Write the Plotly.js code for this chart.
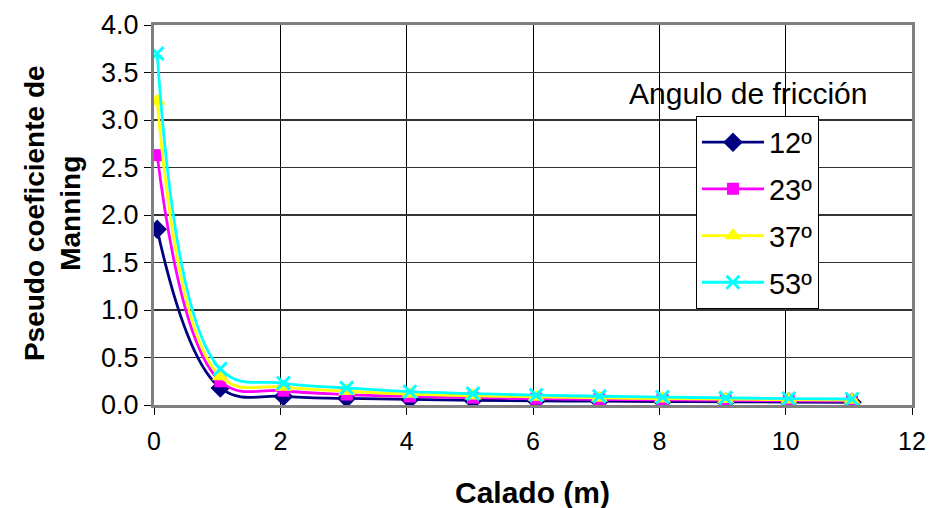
<!DOCTYPE html>
<html>
<head>
<meta charset="utf-8">
<script src="https://cdn.plot.ly/plotly-3.0.1.min.js"></script>
<style>
html,body{margin:0;padding:0;background:#fff;}
#chart{width:930px;height:508px;}
</style>
</head>
<body>
<div id="chart"></div>
<script>
const calado = [0.05, 1.05, 2.05, 3.05, 4.05, 5.05, 6.05, 7.05, 8.05, 9.05, 10.05, 11.05];
const seriesNames = ["12º", "23º", "37º", "53º"];
const n12 = [1.85, 0.18, 0.09, 0.07, 0.06, 0.05, 0.045, 0.04, 0.037, 0.034, 0.031, 0.029];
const n23 = [2.63, 0.25, 0.15, 0.11, 0.09, 0.077, 0.067, 0.06, 0.054, 0.049, 0.045, 0.042];
const n37 = [3.20, 0.30, 0.19, 0.145, 0.115, 0.097, 0.085, 0.075, 0.067, 0.061, 0.056, 0.052];
const n53 = [3.70, 0.38, 0.23, 0.18, 0.14, 0.12, 0.104, 0.092, 0.083, 0.075, 0.068, 0.063];
const xTickVals = [0, 2, 4, 6, 8, 10, 12];
const legendTitle = "Angulo de fricción";
const xTitle = "Calado (m)";
const yTitle = "Pseudo coeficiente de<br>Manning";

const FONT = "Liberation Sans, Arial, sans-serif";
const styles = [
  {color: "#000080", symbol: "diamond", size: 15},
  {color: "#FF00FF", symbol: "square", size: 12},
  {color: "#FFFF00", symbol: "triangle-up", size: 15},
  {color: "#00FFFF", symbol: "x-thin", size: 13}
];
const values = [n12, n23, n37, n53];
const traces = values.map((v, i) => ({
  x: calado, y: v, name: seriesNames[i], type: "scatter", mode: "lines+markers",
  legendgroup: "g" + i,
  line: {color: styles[i].color, width: 2.8, shape: "spline", smoothing: 1.15},
  marker: {color: styles[i].color, symbol: styles[i].symbol, size: styles[i].size,
           line: {color: styles[i].color, width: styles[i].symbol === "x-thin" ? 3 : 0}}
}));

const layout = {
  width: 930, height: 508,
  margin: {l: 154, r: 18, t: 25, b: 103},
  paper_bgcolor: "#fff", plot_bgcolor: "#fff",
  font: {family: FONT, color: "#000", size: 26},
  showlegend: true,
  legend: {x: 0.715, y: 0.761, xanchor: "left", yanchor: "top",
           bgcolor: "#fff", bordercolor: "#000", borderwidth: 1,
           font: {family: FONT, size: 29, color: "#000"}, itemwidth: 62,
           traceorder: "grouped", tracegroupgap: 6},
  xaxis: {range: [0, 12], tickvals: xTickVals, showgrid: true, gridcolor: "#000", gridwidth: 1,
          zeroline: false, ticks: "outside", ticklen: 7, tickcolor: "#000",
          showline: true, linecolor: "#808080", linewidth: 3, mirror: true,
          ticklabeloverflow: "allow", ticklabelstandoff: 5,
          tickfont: {family: FONT, size: 25, color: "#000"}},
  yaxis: {range: [0, 4], dtick: 0.5, tick0: 0, tickformat: ".1f", showgrid: true, gridcolor: "#333", gridwidth: 1.5,
          zeroline: false, ticks: "outside", ticklen: 7, tickcolor: "#000",
          showline: true, linecolor: "#808080", linewidth: 3, mirror: true,
          ticklabeloverflow: "allow",
          tickfont: {family: FONT, size: 27, color: "#000"}},
  annotations: [
    {text: legendTitle, xref: "paper", yref: "paper", x: 0.784, y: 0.821,
     xanchor: "center", yanchor: "middle", showarrow: false,
     font: {family: FONT, size: 30, color: "#000"}},
    {text: "<b>" + xTitle + "</b>", xref: "paper", yref: "paper", x: 0.499, y: -0.229,
     xanchor: "center", yanchor: "middle", showarrow: false,
     font: {family: FONT, size: 30, color: "#000"}},
    {text: "<b>" + yTitle + "</b>", xref: "paper", yref: "paper", x: -0.1346, y: 0.505,
     xanchor: "center", yanchor: "middle", showarrow: false, textangle: -90,
     font: {family: FONT, size: 28, color: "#000"}}
  ]
};

Plotly.newPlot("chart", traces, layout, {staticPlot: true, displayModeBar: false});
</script>
</body>
</html>
